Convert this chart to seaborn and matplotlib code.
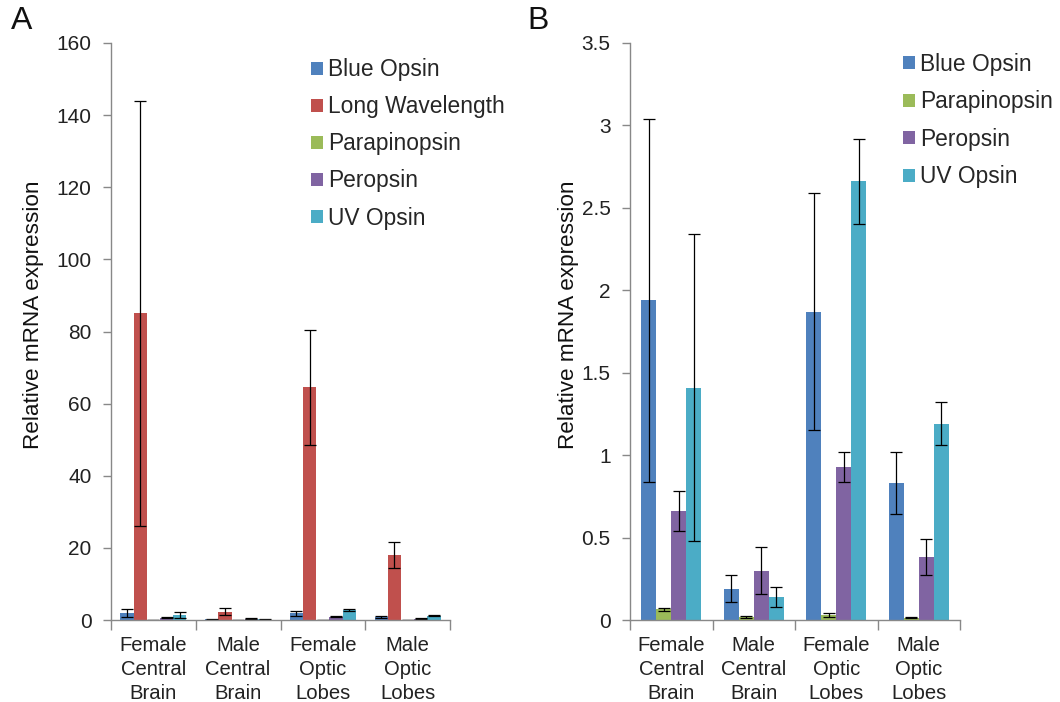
import numpy as np
import pandas as pd
import matplotlib
matplotlib.use("Agg")
import matplotlib.pyplot as plt
import seaborn as sns

sns.set_theme(style="white")
plt.rcParams['font.family'] = ['Liberation Sans', 'DejaVu Sans']

tissues = ["Female\nCentral\nBrain", "Male\nCentral\nBrain", "Female\nOptic\nLobes", "Male\nOptic\nLobes"]

opsins_a = ["Blue Opsin", "Long Wavelength", "Parapinopsin", "Peropsin", "UV Opsin"]
blue_mean = [1.94, 0.19, 1.87, 0.83]
blue_err = [1.10, 0.08, 0.72, 0.19]
long_mean = [85.0, 2.3, 64.5, 18.0]
long_err = [59.0, 1.0, 16.0, 3.7]
para_mean = [0.065, 0.02, 0.03, 0.015]
para_err = [0.01, 0.005, 0.01, 0.005]
pero_mean = [0.66, 0.30, 0.93, 0.38]
pero_err = [0.12, 0.14, 0.09, 0.11]
uv_mean = [1.41, 0.14, 2.66, 1.19]
uv_err = [0.93, 0.06, 0.26, 0.13]

colors = {"Blue Opsin": "#4F81BD", "Long Wavelength": "#C0504D", "Parapinopsin": "#9BBB59",
          "Peropsin": "#8064A2", "UV Opsin": "#4BACC6"}

means = {"Blue Opsin": blue_mean, "Long Wavelength": long_mean, "Parapinopsin": para_mean,
         "Peropsin": pero_mean, "UV Opsin": uv_mean}
errs = {"Blue Opsin": blue_err, "Long Wavelength": long_err, "Parapinopsin": para_err,
        "Peropsin": pero_err, "UV Opsin": uv_err}

opsins_b = ["Blue Opsin", "Parapinopsin", "Peropsin", "UV Opsin"]


def build_df(ops):
    rows = []
    for o in ops:
        for i, t in enumerate(tissues):
            rows.append({"tissue": t, "opsin": o, "value": means[o][i], "err": errs[o][i]})
    return pd.DataFrame(rows)


W, H = 1060, 702
fig = plt.figure(figsize=(W / 100, H / 100), dpi=100)

axA = fig.add_axes([111 / W, 1 - 620 / H, 339 / W, 577 / H])
axB = fig.add_axes([630 / W, 1 - 620 / H, 330 / W, 577 / H])


def draw(ax, ops, width, ymax, yticks, yticklabels, legend_anchor, labelspacing, ylabel_x):
    df = build_df(ops)
    sns.barplot(data=df, x="tissue", y="value", hue="opsin", hue_order=ops, order=tissues,
                palette=[colors[o] for o in ops], width=width, errorbar=None, ax=ax,
                saturation=1, edgecolor="none", legend=True)
    # error bars from bar patch positions
    bar_containers = list(ax.containers)
    for j, cont in enumerate(bar_containers):
        o = ops[j]
        for i, bar in enumerate(cont):
            x = bar.get_x() + bar.get_width() / 2
            y = bar.get_height()
            ax.errorbar(x, y, yerr=errs[o][i], color="black", lw=0.9, capsize=4, capthick=0.9)
    ax.set_xlim(-0.5, 3.5)
    ax.set_ylim(0, ymax)
    ax.set_yticks(yticks)
    ax.set_yticklabels(yticklabels, fontsize=15, color="#222222")
    ax.set_xticks([-0.5, 0.5, 1.5, 2.5, 3.5])
    ax.set_xticklabels([])
    ax.set_xticks([0, 1, 2, 3], minor=True)
    ax.set_xticklabels(tissues, minor=True, fontsize=14.6, color="#222222", linespacing=1.34)
    ax.tick_params(axis="x", which="major", direction="out", length=7, width=1, color="#888888", bottom=True)
    ax.tick_params(axis="x", which="minor", length=0, pad=11.5)
    ax.tick_params(axis="y", direction="out", length=6, width=1, color="#888888", left=True, pad=8)
    ax.set_xlabel("")
    ax.set_ylabel("Relative mRNA expression", fontsize=16.2, color="#111111")
    ax.yaxis.set_label_coords(ylabel_x, 1 - (315 - 43) / 577)
    for s in ["top", "right"]:
        ax.spines[s].set_visible(False)
    for s in ["left", "bottom"]:
        ax.spines[s].set_color("#888888")
        ax.spines[s].set_linewidth(1)
    leg = ax.legend(loc="upper left", bbox_to_anchor=legend_anchor, frameon=False, fontsize=16.4,
                    handlelength=0.5, handleheight=0.5, handletextpad=0.25, labelspacing=labelspacing,
                    borderaxespad=0)
    for h in leg.legend_handles:
        h.set_edgecolor("none")


draw(axA, opsins_a, 0.78, 160, [0, 20, 40, 60, 80, 100, 120, 140, 160],
     ["0", "20", "40", "60", "80", "100", "120", "140", "160"],
     ((302 - 111) / 339, 1 - (49 - 43) / 577), 0.62, (44 - 111) / 339)
draw(axB, opsins_b, 0.73, 3.5, [0, 0.5, 1, 1.5, 2, 2.5, 3, 3.5],
     ["0", "0.5", "1", "1.5", "2", "2.5", "3", "3.5"],
     ((894 - 630) / 330, 1 - (43.5 - 43) / 577), 0.64, (579 - 630) / 330)

fig.text(11 / W, 1 - 21 / H, "A", fontsize=23, va="center", ha="left", color="#111111")
fig.text(527 / W, 1 - 21 / H, "B", fontsize=23, va="center", ha="left", color="#111111")

fig.savefig("out.png", dpi=100, facecolor="white")
